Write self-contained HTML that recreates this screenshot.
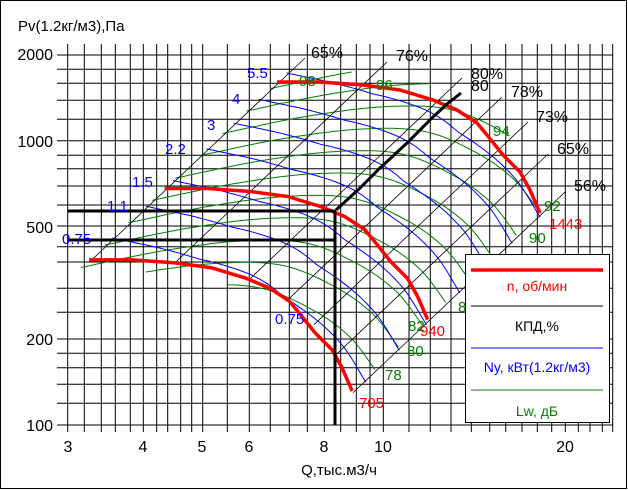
<!DOCTYPE html>
<html><head><meta charset="utf-8"><style>
html,body{margin:0;padding:0;background:#fff}
svg{display:block}
text{font-family:"Liberation Sans",Arial,sans-serif}
</style></head><body>
<svg id="s" width="628" height="490" xmlns="http://www.w3.org/2000/svg">
<rect x="0.5" y="0.5" width="626" height="488" fill="#fff" stroke="#000" stroke-width="1"/>
<g id="grid" stroke="#000" stroke-width="1"></g>
<g id="green" fill="none" stroke="#008000" stroke-width="1"></g>
<g id="blue" fill="none" stroke="#0000ff" stroke-width="1"></g>
<g id="eff" fill="none" stroke="#000" stroke-width="0.8"></g>
<g id="red" fill="none" stroke="#ff0000" stroke-width="3.5" stroke-linejoin="round"></g>
<g fill="none" stroke="#000" stroke-width="3">
<polyline points="68,211 336,211"/>
<polyline points="68,240 336,240"/>
<polyline points="335,211 335,425"/>
<polyline points="336,210 360,188 380,168 407,143 433,117 447,104 461,93"/>
</g>
<g font-size="16" fill="#000">
<text x="18" y="31" font-size="15">Pv(1.2кг/м3),Па</text>
<text x="53" y="60" text-anchor="end">2000</text>
<text x="53" y="147" text-anchor="end">1000</text>
<text x="53" y="233" text-anchor="end">500</text>
<text x="53" y="345" text-anchor="end">200</text>
<text x="53" y="431" text-anchor="end">100</text>
<text x="68" y="452" text-anchor="middle">3</text>
<text x="143" y="452" text-anchor="middle">4</text>
<text x="202" y="452" text-anchor="middle">5</text>
<text x="249" y="452" text-anchor="middle">6</text>
<text x="324" y="452" text-anchor="middle">8</text>
<text x="383" y="452" text-anchor="middle">10</text>
<text x="565" y="452" text-anchor="middle">20</text>
<text x="339" y="475" text-anchor="middle" font-size="15">Q,тыс.м3/ч</text>
<text x="311" y="58">65%</text>
<text x="396" y="61">76%</text>
<text x="471" y="79">80%</text>
<text x="471" y="91">80</text>
<text x="511" y="97">78%</text>
<text x="536" y="122">73%</text>
<text x="557" y="154">65%</text>
<text x="574" y="191">56%</text>
</g>
<g font-size="15" fill="#008000">
<text x="299" y="86">98</text>
<text x="376" y="90">96</text>
<text x="493" y="136">94</text>
<text x="544" y="211">92</text>
<text x="529" y="243">90</text>
<text x="458" y="312">84</text>
<text x="408" y="331">82</text>
<text x="407" y="356">80</text>
<text x="385" y="380">78</text>
</g>
<g font-size="15" fill="#0000ff">
<text x="247" y="78">5.5</text>
<text x="232" y="104">4</text>
<text x="207" y="130">3</text>
<text x="165" y="154">2.2</text>
<text x="132" y="187">1.5</text>
<text x="107" y="211">1.1</text>
<text x="62" y="244">0.75</text>
<text x="275" y="324">0.75</text>
</g>
<g font-size="15" fill="#ff0000">
<text x="549" y="229">1443</text>
<text x="420" y="336">940</text>
<text x="359" y="408">705</text>
</g>
<g>
<rect x="465.5" y="254.5" width="144" height="168" fill="#fff" stroke="#000"/>
<line x1="471" y1="270" x2="603" y2="270" stroke="#ff0000" stroke-width="3.5"/>
<text x="537" y="291" font-size="14" fill="#ff0000" text-anchor="middle">n, об/мин</text>
<line x1="471" y1="306" x2="603" y2="306" stroke="#000" stroke-width="1"/>
<text x="537" y="331" font-size="14" fill="#000" text-anchor="middle">КПД,%</text>
<line x1="471" y1="348" x2="603" y2="348" stroke="#0000ff" stroke-width="1"/>
<text x="537" y="372" font-size="14" fill="#0000ff" text-anchor="middle">Ny, кВт(1.2кг/м3)</text>
<line x1="471" y1="390" x2="603" y2="390" stroke="#008000" stroke-width="1"/>
<text x="537" y="416" font-size="14" fill="#008000" text-anchor="middle">Lw, дБ</text>
</g>
</svg>
<script>
(function(){
var NS="http://www.w3.org/2000/svg";
function el(g,tag,attrs){var e=document.createElementNS(NS,tag);for(var k in attrs)e.setAttribute(k,attrs[k]);document.getElementById(g).appendChild(e);return e;}
var xs=[67.7,84.3,101.3,115.3,130.3,143.3,156.7,167.7,180.7,191.7,202.7,227.3,249.3,270.3,289.3,307.3,324.3,340.7,356.3,370,383.3,409,430.3,451,471.3,489.7,505.7,522,537.3,551.7,565.3,578.3,590,602.3,612.7];
xs.forEach(function(x){el("grid","line",{x1:x,y1:44,x2:x,y2:432});});
var ys=[55,69.3,83.3,100.3,119.3,140.7,155.3,168.7,186,205,226,246.7,262,288.3,312.3,339,353.3,367.7,384.3,403.3,425];
ys.forEach(function(y){el("grid","line",{x1:57,y1:y,x2:613,y2:y});});
var T=[[277,82],[320,82],[363,85],[400,90],[433,100],[457,110],[477,123],[487,135],[503,155],[520,172],[530,190],[540,213]];
var C=[[277,82],[340,83],[400,90],[450,106],[490,138],[520,174],[540,213]];
var P=[];
for(var i=0;i<C.length-1;i++){var p0=C[Math.max(i-1,0)],p1=C[i],p2=C[i+1],p3=C[Math.min(i+2,C.length-1)];
for(var j=0;j<12;j++){var t=j/12,t2=t*t,t3=t2*t;var q=[0,1].map(function(k){return 0.5*((2*p1[k])+(-p0[k]+p2[k])*t+(2*p0[k]-5*p1[k]+4*p2[k]-p3[k])*t2+(-p0[k]+3*p1[k]-3*p2[k]+p3[k])*t3);});P.push(q);}}
P.push(C[C.length-1]);
function interp(tab,x){if(x<=tab[0][0])return tab[0][1];for(var i=0;i<tab.length-1;i++){if(x<=tab[i+1][0]){var f=(x-tab[i][0])/(tab[i+1][0]-tab[i][0]);return tab[i][1]+(tab[i+1][1]-tab[i][1])*f;}}return tab[tab.length-1][1];}
function pt(p,s){return [p[0]+604*s,p[1]-572*s];}
function poly(g,pts){el(g,"polyline",{points:pts.map(function(p){return p[0].toFixed(1)+","+p[1].toFixed(1)}).join(" ")});}
[1443,940,705].forEach(function(n){var s=Math.log10(n/1443);poly("red",T.map(function(p){return pt(p,s)}));});
var LW=[[277,98.6],[540,92]];
for(var L=78;L<=98;L+=2){var seg=[];P.forEach(function(p){var s=(L-interp(LW,p[0]))/51.2;if(s>=-0.33&&s<=0.02){seg.push(pt(p,s));}else{if(seg.length>1)poly("green",seg);seg=[];}});if(seg.length>1)poly("green",seg);}
var NY=[[277,4.93],[380,6.0],[470,6.35],[540,5.6]];
[0.75,1.1,1.5,2.2,3,4,5.5].forEach(function(V){var pts=P.map(function(p){var s=Math.log10(V/interp(NY,p[0]))/3;return pt(p,s);});var a=pts[pts.length-2],b=pts[pts.length-1];pts.push([b[0]+(b[0]-a[0])*1.5,b[1]+(b[1]-a[1])*1.5]);poly("blue",pts);});
var E=[[305,58,92],[387,62,176],[462,78,249],[502,97,286],[528,122,314],[548,154,335],[565,192,353]];
E.forEach(function(e){var y=e[1]+0.947*(e[0]-e[2]);el("eff","line",{x1:e[2],y1:y,x2:e[0],y2:e[1]});});
})();
</script>
</body></html>
